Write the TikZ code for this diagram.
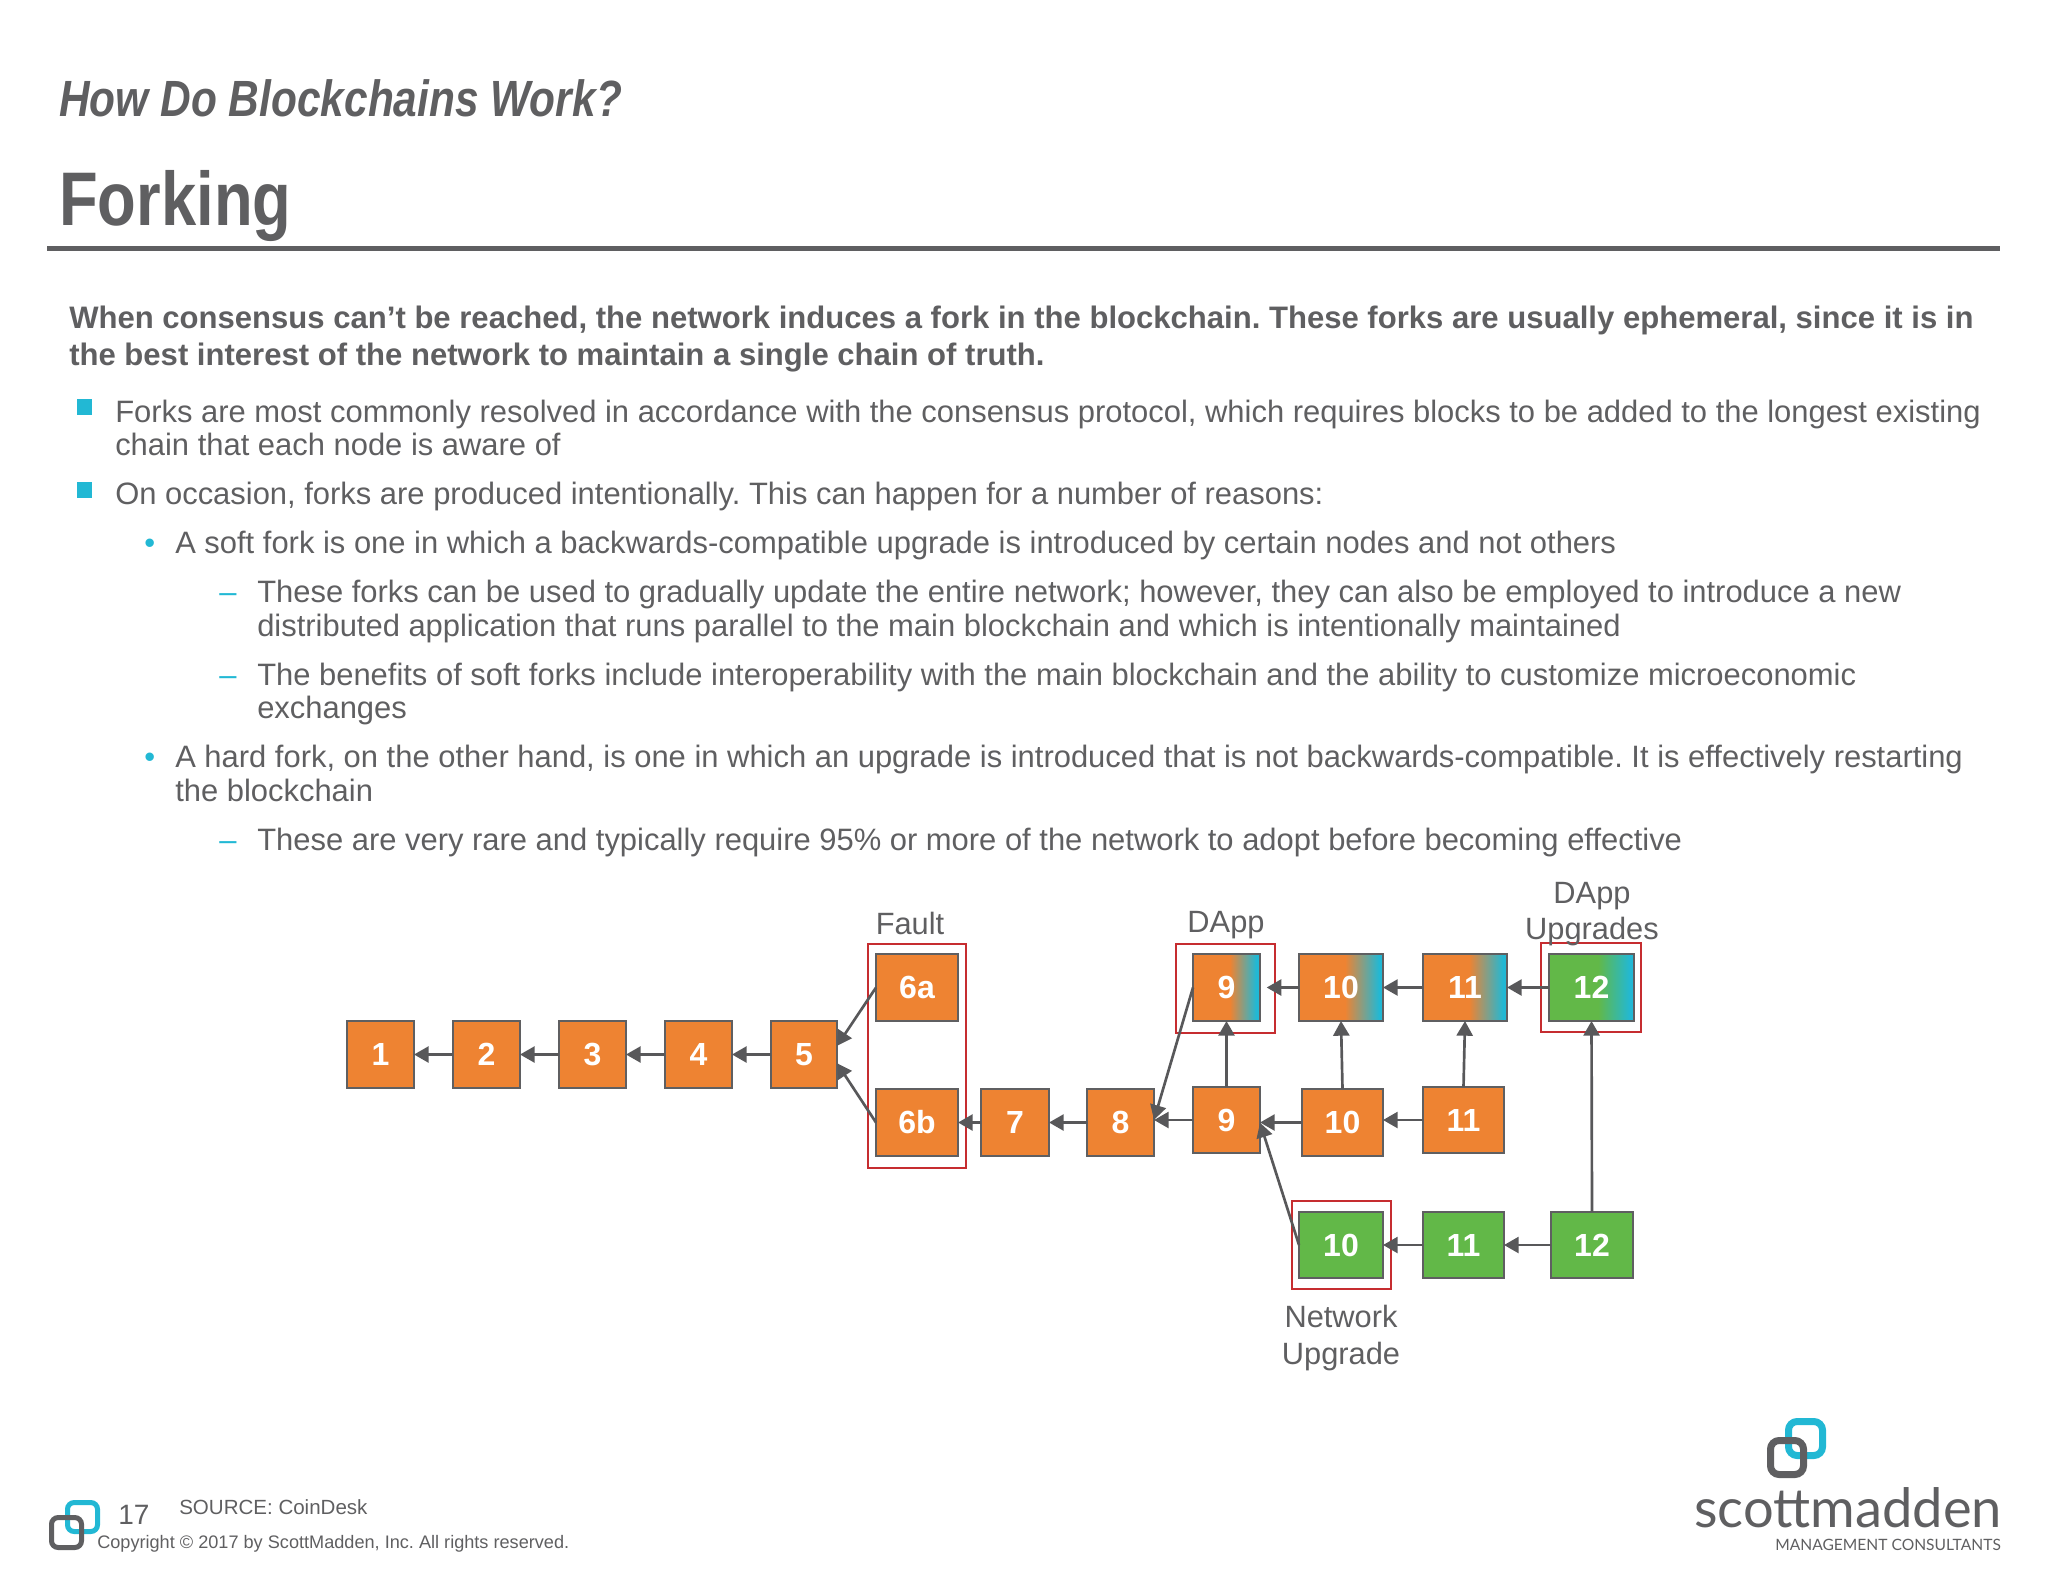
\documentclass[tikz,border=0pt]{standalone}
\usepackage{fontspec}
\setmainfont{Liberation Sans}
\newfontfamily\narrowfont[FakeStretch=0.833]{Liberation Sans}
\newfontfamily\brandfont{Lato}
\usetikzlibrary{arrows.meta}
\frenchspacing
\definecolor{ink}{RGB}{95,95,97}
\definecolor{arrowink}{RGB}{88,88,90}
\definecolor{ocre}{RGB}{238,131,50}
\definecolor{leaf}{RGB}{98,184,72}
\definecolor{teal}{RGB}{34,184,212}
\definecolor{frame}{RGB}{198,45,48}
\tikzset{
  x=0.75pt,y=-0.75pt,
  txt/.style={anchor=base west,inner sep=0pt,text=ink,font=\fontsize{23.2pt}{23.2pt}\selectfont},
  head/.style={txt,font=\fontsize{23.3pt}{23.3pt}\selectfont\bfseries},
  tag/.style={inner sep=0pt,text=ink,align=center,font=\fontsize{23.1pt}{27.5pt}\selectfont},
  blk/.style={draw=ink,line width=1.3pt,inner sep=0pt,outer sep=0pt,anchor=north west,text=white,font=\fontsize{24pt}{24pt}\selectfont\bfseries},
  lnk/.style={draw=arrowink,line width=2pt,-{Triangle[length=11pt,width=12pt]}},
  redbox/.style={draw=frame,line width=1.2pt}
}
\newcommand{\blockat}[7]{% name, x1, y1, x2, y2, fill, label
  \node[blk,fill=#6,minimum width=#4*0.75pt-#2*0.75pt,minimum height=#5*0.75pt-#3*0.75pt] (#1) at (#2,#3) {#7};}
\newcommand{\shadeat}[8]{% name, x1, y1, x2, y2, from, offset, label
  \node[blk,minimum width=#4*0.75pt-#2*0.75pt,minimum height=#5*0.75pt-#3*0.75pt,
    path picture={\fill[#6] (path picture bounding box.south west) rectangle (path picture bounding box.north east);
      \shade[left color=#6,right color=teal] ([xshift=#7*0.75pt]path picture bounding box.south west) rectangle ([xshift=-3pt]path picture bounding box.north east);
      \fill[teal] ([xshift=-3.2pt]path picture bounding box.south east) rectangle (path picture bounding box.north east);}] (#1) at (#2,#3) {#8};}
\begin{document}
\begin{tikzpicture}
\useasboundingbox (0,0) rectangle (2048,1582);
% titles
\node[anchor=base west,inner sep=0pt,text=ink,font=\fontsize{38.2pt}{38pt}\narrowfont\bfseries\itshape] (title) at (59,116) {How Do Blockchains Work?};
\node[anchor=base west,inner sep=0pt,text=ink,font=\fontsize{57pt}{58pt}\narrowfont\bfseries] (sub) at (59,225) {Forking};
\fill[ink] (47,246) rectangle (2000,251);
% body text
\node[head] (l1) at (69,328) {When consensus can’t be reached, the network induces a fork in the blockchain. These forks are usually ephemeral, since it is in};
\node[head] (l2) at (69,365) {the best interest of the network to maintain a single chain of truth.};
\fill[teal] (77,399) rectangle (92,415);
\node[txt] (l3) at (115,422) {Forks are most commonly resolved in accordance with the consensus protocol, which requires blocks to be added to the longest existing};
\node[txt] (l4) at (115,455) {chain that each node is aware of};
\fill[teal] (77,482) rectangle (92,498);
\node[txt] (l5) at (115,504) {On occasion, forks are produced intentionally. This can happen for a number of reasons:};
\node[txt,text=teal] (b1) at (144,553) {•};
\node[txt] (l6) at (175,553) {A soft fork is one in which a backwards-compatible upgrade is introduced by certain nodes and not others};
\node[txt,text=teal] (d1) at (219,602) {–};
\node[txt] (l7) at (257,602) {These forks can be used to gradually update the entire network; however, they can also be employed to introduce a new};
\node[txt] (l8) at (257,636) {distributed application that runs parallel to the main blockchain and which is intentionally maintained};
\node[txt,text=teal] (d2) at (219,685) {–};
\node[txt] (l9) at (257,685) {The benefits of soft forks include interoperability with the main blockchain and the ability to customize microeconomic};
\node[txt] (l10) at (257,718) {exchanges};
\node[txt,text=teal] (b2) at (144,767) {•};
\node[txt] (l11) at (175,767) {A hard fork, on the other hand, is one in which an upgrade is introduced that is not backwards-compatible. It is effectively restarting};
\node[txt] (l12) at (175,801) {the blockchain};
\node[txt,text=teal] (d3) at (219,850) {–};
\node[txt] (l13) at (257,850) {These are very rare and typically require 95\% or more of the network to adopt before becoming effective};
% chain
\blockat{a1}{347}{1021}{414}{1088}{ocre}{1}
\blockat{a2}{453}{1021}{520}{1088}{ocre}{2}
\blockat{a3}{559}{1021}{626}{1088}{ocre}{3}
\blockat{a4}{665}{1021}{732}{1088}{ocre}{4}
\blockat{a5}{771}{1021}{837}{1088}{ocre}{5}
\blockat{fa}{876}{954}{958}{1021}{ocre}{6a}
\blockat{fb}{876}{1089}{958}{1156}{ocre}{6b}
\blockat{a7}{981}{1089}{1049}{1156}{ocre}{7}
\blockat{a8}{1087}{1089}{1154}{1156}{ocre}{8}
\shadeat{t9}{1193}{954}{1260}{1021}{ocre}{37}{9}
\shadeat{t10}{1299}{954}{1383}{1021}{ocre}{46}{10}
\shadeat{t11}{1423}{954}{1507}{1021}{ocre}{46}{11}
\shadeat{t12}{1549}{954}{1634}{1021}{leaf}{49}{12}
\blockat{m9}{1193}{1087}{1260}{1153}{ocre}{9}
\blockat{m10}{1302}{1089}{1383}{1156}{ocre}{10}
\blockat{m11}{1423}{1087}{1504}{1153}{ocre}{11}
\blockat{g10}{1299}{1212}{1383}{1278}{leaf}{10}
\blockat{g11}{1423}{1212}{1504}{1278}{leaf}{11}
\blockat{g12}{1551}{1212}{1633}{1278}{leaf}{12}
% red frames
\draw[redbox] (868,944) rectangle (966,1168);
\draw[redbox] (1176,944) rectangle (1275,1033);
\draw[redbox] (1541,943) rectangle (1641,1032);
\draw[redbox] (1292,1201) rectangle (1391,1289);
% links
\foreach \from/\to in {a2/a1,a3/a2,a4/a3,a5/a4,a7/fb,a8/a7,t11/t10,t12/t11,g11/g10,g12/g11}
  \draw[lnk] (\from.west) -- (\to.east);
\foreach \from/\to in {m9/a8,m10/m9,m11/m10}
  \draw[lnk] (\from.west) -- (\to.east |- \from.west);
\foreach \from/\to in {m9/t9,m10/t10,m11/t11,g12/t12}
  \draw[lnk] (\from.north) -- (\to.south);
\draw[lnk,shorten >=5pt] (t10.west) -- (t9.east);
\draw[lnk] (fa.west) -- ([yshift=6.5pt]a5.east);
\draw[lnk] (fb.west) -- ([yshift=-6.5pt]a5.east);
\draw[lnk] (t9.west) -- ([yshift=2pt]a8.east);
\draw[lnk] (g10.west) -- ([yshift=-2pt]m9.east);
% tags
\node[tag] (fault) at (910,923) {Fault};
\node[tag] (dapp) at (1226,925) {DApp};
\node[tag,text width=160pt] (dappup) at (1592,914) {DApp\\Upgrades};
\node[tag,text width=160pt] (netup) at (1341,1338) {Network\\Upgrade};
% footer
\node[txt,font=\fontsize{21pt}{21pt}\selectfont] (pg) at (118,1524) {17};
\node[txt,font=\fontsize{15.4pt}{15pt}\selectfont] (src) at (179,1514) {SOURCE: CoinDesk};
\node[txt,font=\fontsize{13.6pt}{14pt}\selectfont] (copy) at (97,1548) {Copyright © 2017 by ScottMadden, Inc. All rights reserved.};
% small logo
\draw[teal,line width=3.75pt,rounded corners=5pt] (67.5,1502.5) rectangle (97.5,1531.5);
\draw[ink,line width=3.75pt,rounded corners=5pt] (51.5,1517.5) rectangle (81.5,1547.5);
% big logo
\draw[teal,line width=5.25pt,rounded corners=6.5pt] (1788.5,1421.5) rectangle (1822.5,1455.5);
\draw[ink,line width=5.25pt,rounded corners=6.5pt] (1770.5,1440.5) rectangle (1803.5,1474.5);
\node[txt,font=\fontsize{40.7pt}{40pt}\brandfont] (brand) at (1694,1527) {scottmadden};
\node[txt,font=\fontsize{11.7pt}{12pt}\brandfont] (mgmt) at (1775,1550) {MANAGEMENT CONSULTANTS};
\end{tikzpicture}
\end{document}
